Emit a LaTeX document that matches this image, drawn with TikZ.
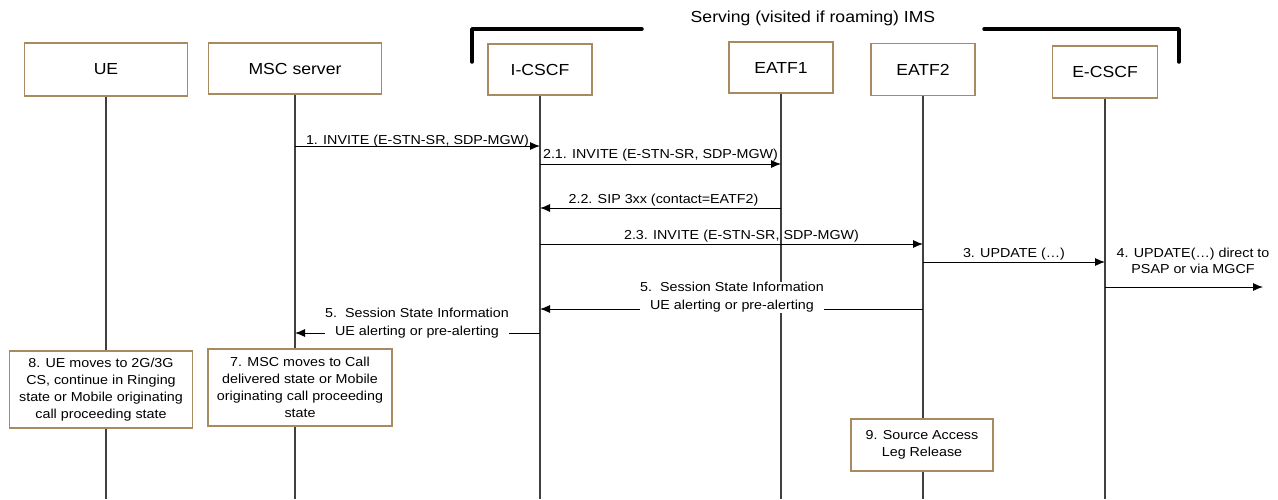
\documentclass[tikz,border=0pt]{standalone}
\usepackage{fontspec}
\setmainfont{Liberation Sans}[FakeStretch=1.1]
\usetikzlibrary{arrows.meta}
\definecolor{boxc}{RGB}{168,138,96}
\definecolor{lifec}{RGB}{64,64,64}
\begin{document}
\begin{tikzpicture}[x=1pt,y=-1pt,
  entity/.style={draw=boxc, line width=1.2pt, fill=white, inner sep=0pt, font=\fontsize{16}{19}\selectfont},
  note/.style={draw=boxc, line width=1.2pt, fill=white, inner sep=0pt, align=center, font=\fontsize{13}{17}\selectfont},
  life/.style={draw=lifec, line width=1.4pt},
  msg/.style={draw=black, line width=0.9pt, -{Latex[length=10pt,width=8pt]}},
  lbl/.style={font=\fontsize{13}{16}\selectfont, inner sep=0pt},
  lbltwo/.style={font=\fontsize{13}{18}\selectfont, inner sep=0pt, align=center, fill=white},
  bracket/.style={draw=black, line width=3.5pt, line join=round, line cap=round}]
\useasboundingbox (0,0) rectangle (1278,499);

% entities
\node[entity, minimum width=163pt, minimum height=53pt] (ue) at (106,69.5) {UE};
\node[entity, minimum width=173pt, minimum height=51pt] (msc) at (295,68.5) {MSC server};
\node[entity, minimum width=104pt, minimum height=51pt] (icscf) at (540,69.5) {I-CSCF};
\node[entity, minimum width=104pt, minimum height=51pt] (eatf1) at (781,67.5) {EATF1};
\node[entity, minimum width=104pt, minimum height=52pt] (eatf2) at (923,69.5) {EATF2};
\node[entity, minimum width=105pt, minimum height=52pt] (ecscf) at (1105,72) {E-CSCF};

% bracket
\coordinate (brl) at (472,62);
\coordinate (brr) at (1179,62);
\draw[bracket] (brl) -- (472,29) -- (642,29);
\draw[bracket] (984,29) -- (1179,29) -- (brr);
\node[font=\fontsize{16}{19}\selectfont, inner sep=0pt] (ims) at (813,18) {Serving (visited if roaming) IMS};

% lifelines
\foreach \n in {ue,msc,icscf,eatf1,eatf2,ecscf}{
  \coordinate (\n-end) at (\n |- 0,499);
  \draw[life] (\n.south) -- (\n-end);
}

% messages
\draw[msg] (msc |- 0,146) -- node[lbl, anchor=base, yshift=2pt] (l1) {1. INVITE (E-STN-SR, SDP-MGW)} (icscf |- 0,146);
\draw[msg] (icscf |- 0,164) -- node[lbl, anchor=base, yshift=6pt] (l21) {2.1. INVITE (E-STN-SR, SDP-MGW)} (eatf1 |- 0,164);
\draw[msg] (eatf1 |- 0,208) -- node[lbl, anchor=base, yshift=5pt, xshift=3pt] (l22) {2.2. SIP 3xx (contact=EATF2)} (icscf |- 0,208);
\draw[msg] (icscf |- 0,244) -- node[lbl, anchor=base, yshift=5pt, xshift=10pt] (l23) {2.3. INVITE (E-STN-SR, SDP-MGW)} (eatf2 |- 0,244);
\draw[msg] (eatf2 |- 0,262) -- node[lbl, anchor=base, yshift=5pt] (l3) {3. UPDATE (\char"2026)} (ecscf |- 0,262);
\coordinate (psap) at (1263,287);
\draw[msg] (ecscf |- psap) -- (psap);
\node[lbl, align=center] (l4) at (1193,261) {4. UPDATE(\char"2026) direct to\\PSAP or via MGCF};

\draw[msg] (eatf2 |- 0,309) -- (icscf |- 0,309);
\node[lbltwo] (l5a) at (732,297.5) {5.\ \ Session State Information\\UE alerting or pre-alerting};
\draw[msg] (icscf |- 0,333) -- (msc |- 0,333);
\node[lbltwo] (l5b) at (417,323.5) {5.\ \ Session State Information\\UE alerting or pre-alerting};

% notes
\node[note, minimum width=183pt, minimum height=77pt] (n8) at (101,389.5) {8. UE moves to 2G/3G\\CS, continue in Ringing\\state or Mobile originating\\call proceeding state};
\node[note, minimum width=184pt, minimum height=77pt] (n7) at (300,387.5) {7. MSC moves to Call\\delivered state or Mobile\\originating call proceeding\\state};
\node[note, minimum width=142pt, minimum height=52pt] (n9) at (922,445) {9. Source Access\\Leg Release};
\end{tikzpicture}
\end{document}
